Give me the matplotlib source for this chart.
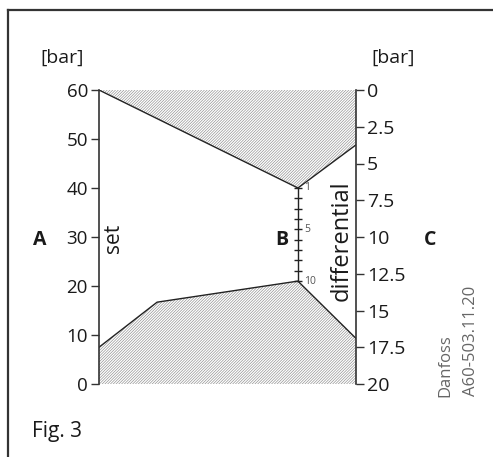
import matplotlib.pyplot as plt
from matplotlib.lines import Line2D

plt.rcParams['font.family'] = ['Open Sans', 'DejaVu Sans']
plt.rcParams['hatch.linewidth'] = 0.45

# scales
set_ticks = [0, 10, 20, 30, 40, 50, 60]
diff_ticks = [0, 2.5, 5, 7.5, 10, 12.5, 15, 17.5, 20]
diff_labels = ['0', '2.5', '5', '7.5', '10', '12.5', '15', '17.5', '20']
b_ticks = [1, 2, 3, 4, 5, 6, 7, 8, 9, 10]
b_labels = {1: '1', 5: '5', 10: '10'}

# nomogram geometry, x: 0 = set scale (A), 1 = differential scale (C)
b_pos = 0.774
b_top, b_bottom = 40, 21          # set-bar level of B = 1 and B = 10
upper_x = [0.0, b_pos, 1.0]
upper_y = [60, 40, 48.8]
lower_x = [0.0, 0.226, b_pos, 1.0]
lower_y = [7.5, 16.7, 21, 9.3]

W, H = 493, 457
fig = plt.figure(figsize=(W / 100, H / 100), dpi=100)


def px(x, y):
    return x / W, 1 - y / H


ax = fig.add_axes([99 / W, 1 - 384 / H, (356 - 99) / W, (384 - 90) / H])
ax.set_xlim(0, 1)
ax.set_ylim(0, 60)
for s in ['top', 'bottom', 'right']:
    ax.spines[s].set_visible(False)
ax.spines['left'].set_color('#333333')
ax.spines['left'].set_linewidth(1.2)
ax.set_xticks([])
ax.set_yticks(set_ticks)
ax.tick_params(axis='y', direction='out', length=6, width=1, color='#333333',
               labelsize=13.5, labelcolor='#1a1a1a', pad=2)

ax2 = ax.twinx()
ax2.set_ylim(20, 0)
for s in ['top', 'bottom', 'left']:
    ax2.spines[s].set_visible(False)
ax2.spines['right'].set_color('#333333')
ax2.spines['right'].set_linewidth(1.2)
ax2.set_yticks(diff_ticks)
ax2.set_yticklabels(diff_labels)
ax2.tick_params(axis='y', direction='out', length=6, width=1, color='#333333',
                labelsize=14, labelcolor='#1a1a1a', pad=2)

# hatched zones
up_poly_x = upper_x + [1.0, 0.0]
up_poly_y = upper_y + [60, 60]
ax.fill(up_poly_x, up_poly_y, facecolor='white', edgecolor='#8c8c8c',
        hatch='////////////', linewidth=0)
lo_poly_x = lower_x + [1.0, 0.0]
lo_poly_y = lower_y + [0, 0]
ax.fill(lo_poly_x, lo_poly_y, facecolor='white', edgecolor='#8c8c8c',
        hatch='////////////', linewidth=0)
ax.plot(upper_x, upper_y, color='#222222', lw=1)
ax.plot(lower_x, lower_y, color='#222222', lw=1)

# B scale
b_y = [b_top - (b - 1) * (b_top - b_bottom) / 9 for b in b_ticks]
ax.plot([b_pos, b_pos], [b_top, b_bottom], color='#222222', lw=1)
ax.plot([b_pos] * len(b_ticks), b_y, ls='none', marker='_', ms=6,
        mew=1, color='#222222')
for b, y in zip(b_ticks, b_y):
    if b in b_labels:
        ax.text(b_pos + 0.025, y, b_labels[b], fontsize=7.5, color='#555555',
                va='center', ha='left')

# texts
fig.text(*px(62, 58), '[bar]', fontsize=14, ha='center', va='center', color='#1a1a1a')
fig.text(*px(393, 58), '[bar]', fontsize=14, ha='center', va='center', color='#1a1a1a')
fig.text(*px(40, 240), 'A', fontsize=14, fontweight='bold', ha='center', va='center', color='#1a1a1a')
fig.text(*px(282, 240), 'B', fontsize=14, fontweight='bold', ha='center', va='center', color='#1a1a1a')
fig.text(*px(430, 240), 'C', fontsize=14, fontweight='bold', ha='center', va='center', color='#1a1a1a')
fig.text(*px(114, 238), 'set', fontsize=15, rotation=90, ha='center', va='center', color='#1a1a1a')
fig.text(*px(342, 241), 'differential', fontsize=17, rotation=90, ha='center', va='center', color='#1a1a1a')
fig.text(*px(445, 366), 'Danfoss', fontsize=12, rotation=90, ha='center', va='center', color='#666666')
fig.text(*px(471, 341), 'A60-503.11.20', fontsize=12, rotation=90, ha='center', va='center', color='#666666')
fig.text(*px(32, 432), 'Fig. 3', fontsize=15, ha='left', va='center', color='#1a1a1a')

# frame (only left and top edges visible)
fig.add_artist(Line2D([8 / W, 8 / W], [0, 1 - 10 / H], transform=fig.transFigure,
                      color='#333333', lw=1.6))
fig.add_artist(Line2D([8 / W, 1], [1 - 10 / H, 1 - 10 / H], transform=fig.transFigure,
                      color='#333333', lw=1.6))

fig.savefig('out.png', dpi=100)
